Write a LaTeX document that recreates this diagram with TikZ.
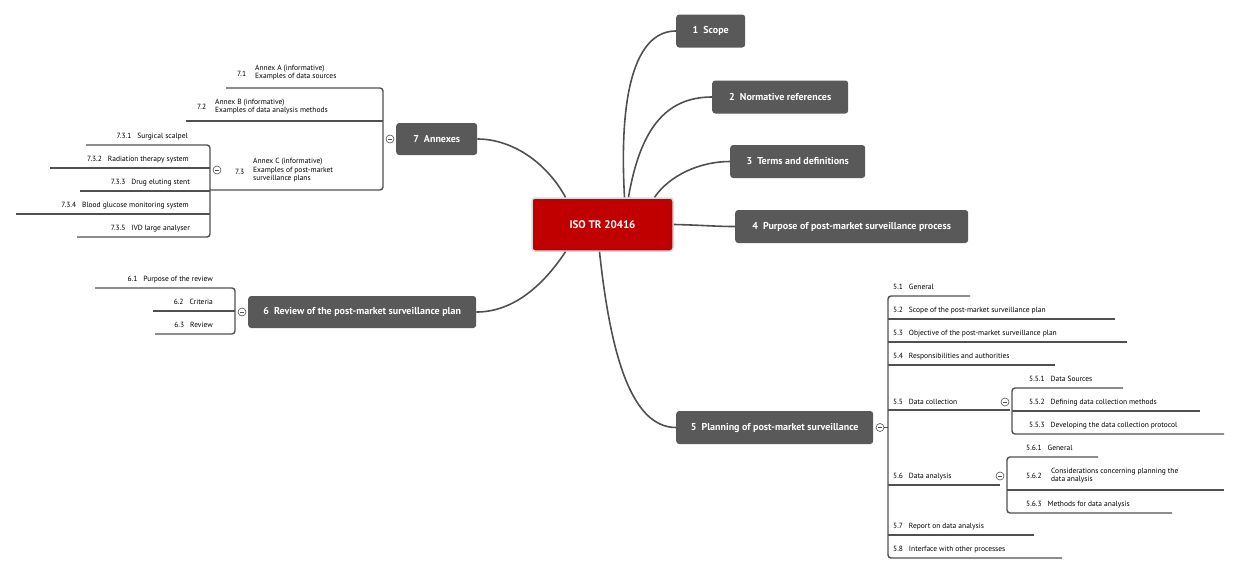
\documentclass[tikz,border=0pt]{standalone}
\usepackage{fontspec}
\setmainfont{PT Sans}
\begin{document}
\begin{tikzpicture}[x=1pt,y=-1pt,
  topic/.style={fill=tgray,rounded corners=3pt,text=white,font=\bfseries\fontsize{10}{12}\selectfont,inner sep=0pt,minimum height=33pt,anchor=west},
  lbl/.style={font=\fontsize{7.5}{8.5}\selectfont,inner sep=0pt,align=left},
  ln/.style={draw=lgray,line width=1.4pt,rounded corners=3pt},
  conn/.style={draw=lgray,line width=1.6pt},
  col/.style={circle,draw=lgray,fill=white,line width=0.6pt,minimum size=8pt,inner sep=0pt,path picture={\draw[lgray,line width=0.6pt] ([xshift=-2pt]path picture bounding box.center)--([xshift=2pt]path picture bounding box.center);}}]
\definecolor{tgray}{HTML}{595959}
\definecolor{lgray}{HTML}{505050}
\definecolor{cred}{HTML}{C00000}
\useasboundingbox (0,0) rectangle (1242,576);
% center
\node[fill=cred,draw=white!70!gray,line width=1.5pt,rounded corners=3pt,text=white,font=\bfseries\fontsize{11}{13}\selectfont,minimum width=141pt,minimum height=53pt,inner sep=0pt] (c) at (602.5,224.5) {ISO TR 20416};
% topics
\node[topic,minimum width=69pt] (t1) at (676,31) {1\ \ Scope};
\node[topic,minimum width=136pt] (t2) at (712,97) {2\ \ Normative references};
\node[topic,minimum width=135pt] (t3) at (730,161.5) {3\ \ Terms and definitions};
\node[topic,minimum width=233pt] (t4) at (735,226.5) {4\ \ Purpose of post-market surveillance process};
\node[topic,minimum width=197pt] (t5) at (676,427.5) {5\ \ Planning of post-market surveillance};
\node[topic,minimum width=228pt,minimum height=32pt] (t6) at (248,312) {6\ \ Review of the post-market surveillance plan};
\node[topic,minimum width=81pt,minimum height=32pt] (t7) at (396,139) {7\ \ Annexes};
% connectors
\draw[conn] (c.north)++(22,0) coordinate (c1) .. controls (618,80) and (640,31) .. (t1.west);
\draw[conn] ([xshift=26pt]c.north) .. controls (640,130) and (665,97) .. (t2.west);
\draw[conn] ([xshift=52pt]c.north) .. controls (670,175) and (700,161.5) .. (t3.west);
\draw[conn] (c.east) .. controls (700,225) and (715,226.5) .. (t4.west);
\draw[conn] ([xshift=-3pt]c.south) .. controls (610,350) and (630,427.5) .. (t5.west);
\draw[conn] ([xshift=-37pt]c.south) .. controls (540,290) and (510,312) .. (t6.east);
\draw[conn] ([xshift=-37pt]c.north) .. controls (545,160) and (510,139) .. (t7.east);
% ===== branch 5 =====
\node[col] (k5) at (880,427.5) {};
\foreach \y/\e in {319/1115,342/1127,365/1055,410/1010,485/1000,535/1034}{\draw[ln] (888,\y)--(\e,\y);}
\draw[ln] (970,296)--(888,296)--(888,558)--(1062,558);
\draw[lgray,line width=1.4pt] (k5.east)--(888,427.5);
\node[lbl,anchor=base west] (n51) at (893,289) {5.1\ \ \ General};
\node[lbl,anchor=base west] (n52) at (893,312) {5.2\ \ \ Scope of the post-market surveillance plan};
\node[lbl,anchor=base west] (n53) at (893,335) {5.3\ \ \ Objective of the post-market surveillance plan};
\node[lbl,anchor=base west] (n54) at (893,358) {5.4\ \ \ Responsibilities and authorities};
\node[lbl,anchor=base west] (n55) at (893,404) {5.5\ \ \ Data collection};
\node[lbl,anchor=base west] (n56) at (893,478) {5.6\ \ \ Data analysis};
\node[lbl,anchor=base west] (n57) at (893,528) {5.7\ \ \ Report on data analysis};
\node[lbl,anchor=base west] (n58) at (893,551) {5.8\ \ \ Interface with other processes};
% 5.5 sub
\node[col] (k55) at (1005,402) {};
\draw[ln] (1123,388)--(1012,388)--(1012,434)--(1224,434);
\draw[ln] (1012,411)--(1200,411);
\node[lbl,anchor=base west] (n551) at (1029,381) {5.5.1\ \ \ Data Sources};
\node[lbl,anchor=base west] (n552) at (1029,404) {5.5.2\ \ \ Defining data collection methods};
\node[lbl,anchor=base west] (n553) at (1029,427) {5.5.3\ \ \ Developing the data collection protocol};
% 5.6 sub
\node[col] (k56) at (1000,476) {};
\draw[ln] (1098,457)--(1007,457)--(1007,513)--(1172,513);
\draw[ln] (1007,490)--(1224,490);
\node[lbl,anchor=base west] (n561) at (1026,450) {5.6.1\ \ \ General};
\node[lbl,anchor=base west] (n562a) at (1026,478) {5.6.2};
\node[lbl,anchor=west] (n562) at (1051,475.5) {Considerations concerning planning the\\data analysis};
\node[lbl,anchor=base west] (n563) at (1026,506) {5.6.3\ \ \ Methods for data analysis};
% ===== branch 7 =====
\node[col] (k7) at (390,139) {};
\draw[ln] (226,88)--(383,88)--(383,190)--(210,190);
\draw[ln] (186,121)--(383,121);
\node[lbl,anchor=base west] (n71a) at (237,76) {7.1};
\node[lbl,anchor=west] (n71) at (255,72.5) {Annex A (informative)\\Examples of data sources};
\node[lbl,anchor=base west] (n72a) at (197,109) {7.2};
\node[lbl,anchor=west] (n72) at (215,106.5) {Annex B (informative)\\Examples of data analysis methods};
\node[lbl,anchor=base west] (n73a) at (235,174) {7.3};
\node[lbl,anchor=west] (n73) at (253,170.5) {Annex C (informative)\\Examples of post-market\\surveillance plans};
\node[col] (k73) at (217,170) {};
\draw[ln] (86,145)--(210,145)--(210,237)--(77,237);
\foreach \y/\s in {168/50,191/80,214/16}{\draw[ln] (\s,\y)--(210,\y);}
\node[lbl,anchor=base east] (n731) at (188,138) {7.3.1\ \ \ Surgical scalpel};
\node[lbl,anchor=base east] (n732) at (189,161) {7.3.2\ \ \ Radiation therapy system};
\node[lbl,anchor=base east] (n733) at (190,184) {7.3.3\ \ \ Drug eluting stent};
\node[lbl,anchor=base east] (n734) at (189,207) {7.3.4\ \ \ Blood glucose monitoring system};
\node[lbl,anchor=base east] (n735) at (190,230) {7.3.5\ \ \ IVD large analyser};
% ===== branch 6 =====
\node[col] (k6) at (242,312) {};
\draw[ln] (95,288)--(235,288)--(235,334)--(155,334);
\draw[ln] (153,311)--(235,311);
\node[lbl,anchor=base east] (n61) at (213,281) {6.1\ \ \ Purpose of the review};
\node[lbl,anchor=base east] (n62) at (213,304) {6.2\ \ \ Criteria};
\node[lbl,anchor=base east] (n63) at (213,327) {6.3\ \ \ Review};
\end{tikzpicture}
\end{document}
